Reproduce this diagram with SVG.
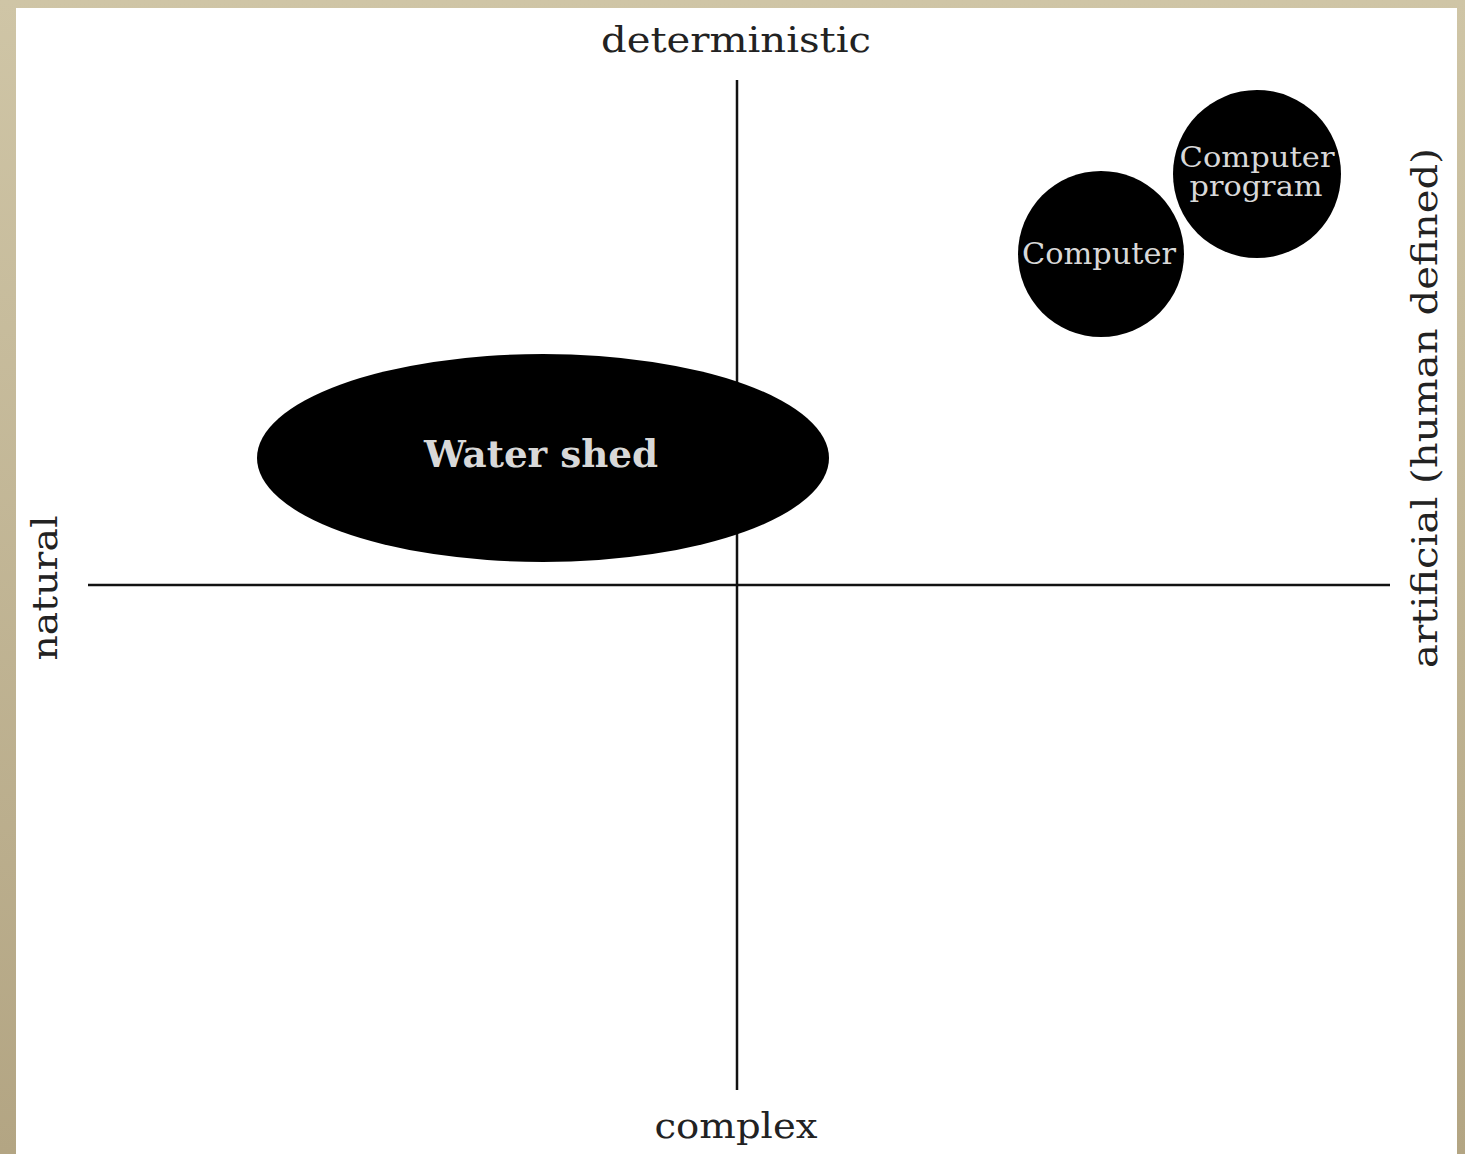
<svg xmlns="http://www.w3.org/2000/svg" width="1465" height="1154" viewBox="0 0 1465 1154">
<defs>
<linearGradient id="bg" x1="0" y1="0" x2="0" y2="1">
<stop offset="0" stop-color="#cfc5a6"/>
<stop offset="1" stop-color="#b3a583"/>
</linearGradient>
</defs>
<style>
.lbl{font-family:"DejaVu Serif","Liberation Serif",serif;fill:#222;}
.in{font-family:"DejaVu Serif","Liberation Serif",serif;fill:#d8d8d8;text-anchor:middle;}
.ax{stroke:#111;stroke-width:2.5;fill:none;}
.blob{fill:#000;}
</style>
<rect x="0" y="0" width="1465" height="1154" fill="url(#bg)"/>
<rect x="16" y="8" width="1441" height="1146" fill="#fff"/>
<g id="connectors">
<line class="ax" x1="737" y1="80" x2="737" y2="1090"/>
<line class="ax" x1="88" y1="585" x2="1390" y2="585"/>
</g>
<g id="watershed">
<ellipse class="blob" cx="543" cy="458" rx="286" ry="104"/>
<text class="in" x="541" y="467" font-size="38" font-weight="bold" textLength="234" lengthAdjust="spacingAndGlyphs">Water shed</text>
</g>
<g id="computer">
<circle class="blob" cx="1101" cy="254" r="83"/>
<text class="in" x="1099" y="264" font-size="30" textLength="154" lengthAdjust="spacingAndGlyphs">Computer</text>
</g>
<g id="computer-program">
<circle class="blob" cx="1257" cy="174" r="84"/>
<text class="in" x="1257" y="167" font-size="27" textLength="155" lengthAdjust="spacingAndGlyphs">Computer</text>
<text class="in" x="1256" y="196" font-size="27" textLength="133" lengthAdjust="spacingAndGlyphs">program</text>
</g>
<g id="labels">
<text class="lbl" x="736" y="52" font-size="36" text-anchor="middle" textLength="270" lengthAdjust="spacingAndGlyphs">deterministic</text>
<text class="lbl" x="736" y="1138" font-size="36" text-anchor="middle" textLength="163" lengthAdjust="spacingAndGlyphs">complex</text>
<text class="lbl" transform="translate(57,588) rotate(-90)" font-size="36" text-anchor="middle" textLength="145" lengthAdjust="spacingAndGlyphs">natural</text>
<text class="lbl" transform="translate(1437,408) rotate(-90)" font-size="36" text-anchor="middle" textLength="520" lengthAdjust="spacingAndGlyphs">artificial (human defined)</text>
</g>
</svg>
